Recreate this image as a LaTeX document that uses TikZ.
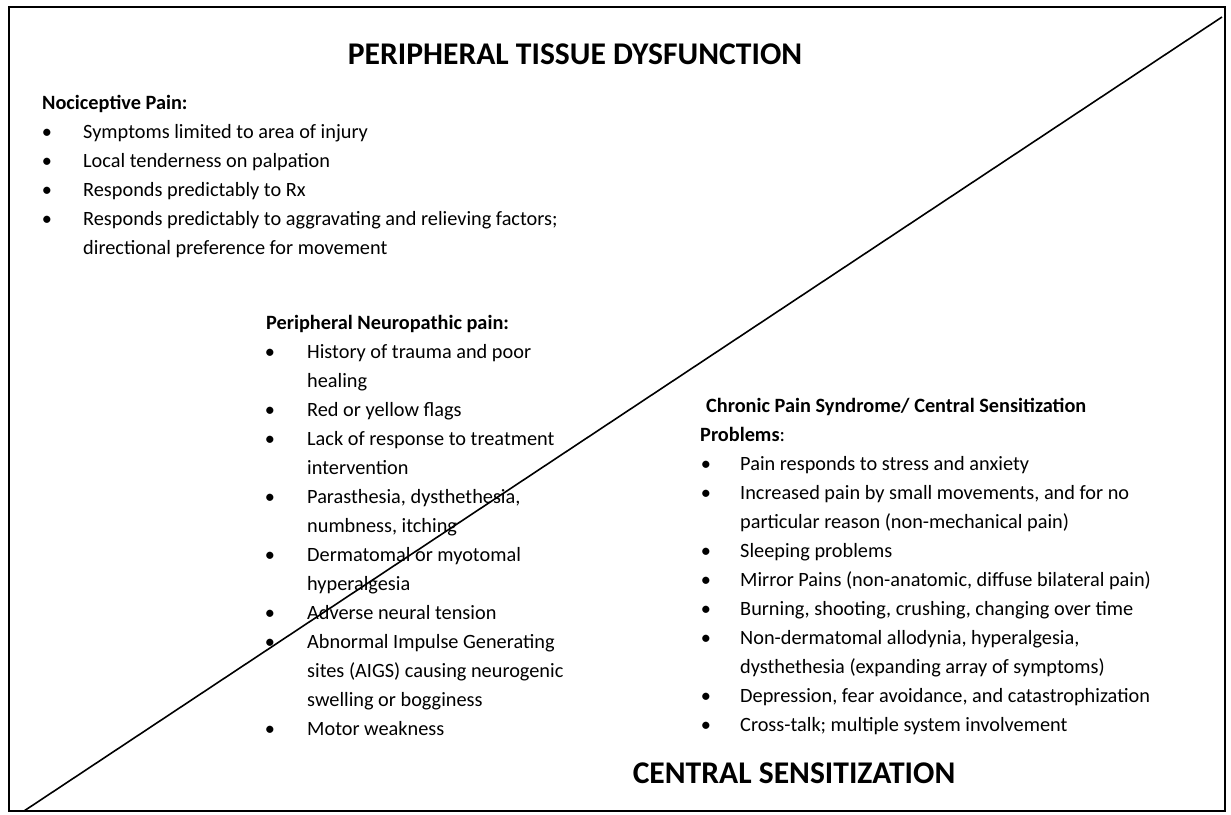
\documentclass[tikz,border=0pt]{standalone}
\usepackage{fontspec}
\setmainfont{Carlito}
\tikzset{
  txt/.style={anchor=base west,inner sep=0pt,font=\fontsize{20.3}{24}\selectfont},
  hd/.style={txt,font=\fontsize{20.3}{24}\selectfont\bfseries},
  bul/.style={anchor=base,inner sep=0pt,font=\fontsize{20.3}{24}\selectfont},
  big/.style={anchor=base,inner sep=0pt,font=\fontsize{31.6}{36}\selectfont\bfseries}
}
\begin{document}
\begin{tikzpicture}[x=1pt,y=-1pt]
\useasboundingbox (0,0) rectangle (1231,814);
\draw[line width=1.6pt] (9,7) rectangle (1225,811);
\coordinate (dl) at (24,811);
\coordinate (dr) at (1222,17);
\draw[line width=1.6pt] (dl) -- (dr);
% titles
\node (t1) at (575,64) [big] {PERIPHERAL TISSUE DYSFUNCTION};
\node (t2) at (794,783) [big] {CENTRAL SENSITIZATION};
% nociceptive
\node (h1) at (42,109) [hd] {Nociceptive Pain:};
\node (b11) at (47,138) [bul] {\textbullet};
\node (a11) at (83,138) [txt] {Symptoms limited to area of injury};
\node (b12) at (47,167) [bul] {\textbullet};
\node (a12) at (83,167) [txt] {Local tenderness on palpation};
\node (b13) at (47,196) [bul] {\textbullet};
\node (a13) at (83,196) [txt] {Responds predictably to Rx};
\node (b14) at (47,225) [bul] {\textbullet};
\node (a14) at (83,225) [txt] {Responds predictably to aggravating and relieving factors;};
\node (a14b) at (83,254) [txt] {directional preference for movement};
% peripheral neuropathic
\node (h2) at (266,329) [hd] {Peripheral Neuropathic pain:};
\node (b21) at (270,358) [bul] {\textbullet};
\node (a21) at (307,358) [txt] {History of trauma and poor};
\node (a21b) at (307,387) [txt] {healing};
\node (b22) at (270,416) [bul] {\textbullet};
\node (a22) at (307,416) [txt] {Red or yellow flags};
\node (b23) at (270,445) [bul] {\textbullet};
\node (a23) at (307,445) [txt] {Lack of response to treatment};
\node (a23b) at (307,474) [txt] {intervention};
\node (b24) at (270,503) [bul] {\textbullet};
\node (a24) at (307,503) [txt] {Parasthesia, dysthethesia,};
\node (a24b) at (307,532) [txt] {numbness, itching};
\node (b25) at (270,561) [bul] {\textbullet};
\node (a25) at (307,561) [txt] {Dermatomal or myotomal};
\node (a25b) at (307,590) [txt] {hyperalgesia};
\node (b26) at (270,619) [bul] {\textbullet};
\node (a26) at (307,619) [txt] {Adverse neural tension};
\node (b27) at (270,648) [bul] {\textbullet};
\node (a27) at (307,648) [txt] {Abnormal Impulse Generating};
\node (a27b) at (307,677) [txt] {sites (AIGS) causing neurogenic};
\node (a27c) at (307,706) [txt] {swelling or bogginess};
\node (b28) at (270,735) [bul] {\textbullet};
\node (a28) at (307,735) [txt] {Motor weakness};
% chronic pain
\node (h3) at (706,412) [hd] {Chronic Pain Syndrome/ Central Sensitization};
\node (h3b) at (700,441) [txt] {\textbf{Problems}:};
\node (b31) at (706,470) [bul] {\textbullet};
\node (a31) at (740,470) [txt] {Pain responds to stress and anxiety};
\node (b32) at (706,499) [bul] {\textbullet};
\node (a32) at (740,499) [txt] {Increased pain by small movements, and for no};
\node (a32b) at (740,528) [txt] {particular reason (non-mechanical pain)};
\node (b33) at (706,557) [bul] {\textbullet};
\node (a33) at (740,557) [txt] {Sleeping problems};
\node (b34) at (706,586) [bul] {\textbullet};
\node (a34) at (740,586) [txt] {Mirror Pains (non-anatomic, diffuse bilateral pain)};
\node (b35) at (706,615) [bul] {\textbullet};
\node (a35) at (740,615) [txt] {Burning, shooting, crushing, changing over time};
\node (b36) at (706,644) [bul] {\textbullet};
\node (a36) at (740,644) [txt] {Non-dermatomal allodynia, hyperalgesia,};
\node (a36b) at (740,673) [txt] {dysthethesia (expanding array of symptoms)};
\node (b37) at (706,702) [bul] {\textbullet};
\node (a37) at (740,702) [txt] {Depression, fear avoidance, and catastrophization};
\node (b38) at (706,731) [bul] {\textbullet};
\node (a38) at (740,731) [txt] {Cross-talk; multiple system involvement};
\end{tikzpicture}
\end{document}
